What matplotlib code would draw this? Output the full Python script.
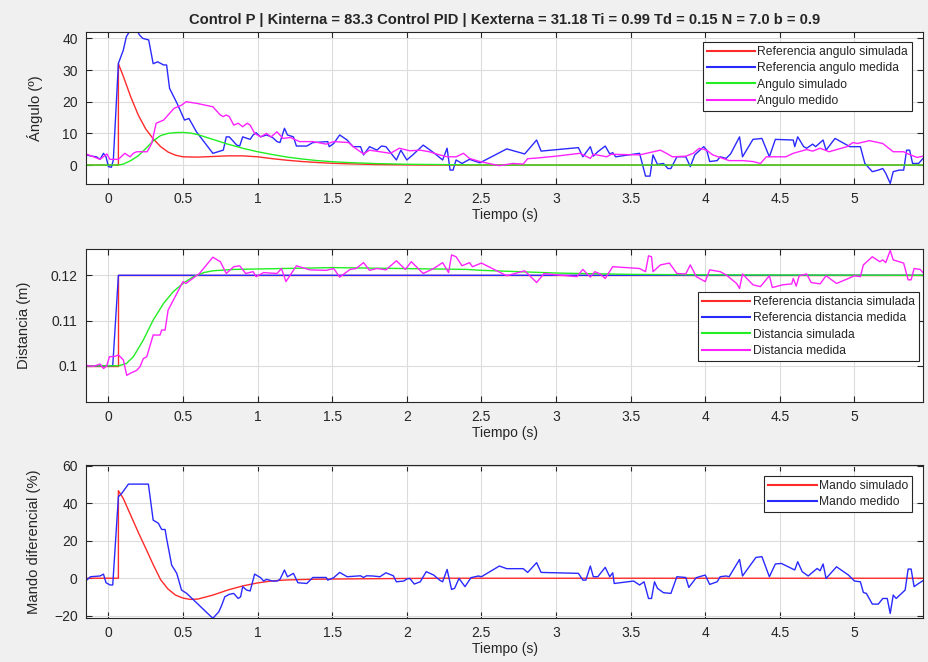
import matplotlib
matplotlib.use("Agg")
import matplotlib.pyplot as plt

plt.rcParams['font.family'] = ['Liberation Sans', 'DejaVu Sans']

# ---- Angulo ----
t_ref_ang_sim = [-0.15, 0.067, 0.067, 0.1, 0.15, 0.2, 0.25, 0.3, 0.35, 0.4, 0.45, 0.5, 0.6, 0.7, 0.8,
                 0.9, 1.0, 1.1, 1.2, 1.3, 1.4, 1.5, 1.6, 1.8, 2.0, 2.2, 5.46]
ref_ang_sim = [0, 0, 32, 28, 21.5, 15.8, 11.4, 8.3, 5.8, 4.1, 3.1, 2.6, 2.5, 2.7, 2.9,
               2.9, 2.6, 2.0, 1.5, 1.1, 0.8, 0.55, 0.4, 0.15, 0.05, 0.0, 0.0]

t_ang_sim = [-0.15, 0.067, 0.1, 0.15, 0.2, 0.25, 0.3, 0.35, 0.4, 0.45, 0.5, 0.55, 0.6, 0.7, 0.8, 0.9,
             1.0, 1.1, 1.2, 1.3, 1.4, 1.5, 1.6, 1.8, 2.0, 2.3, 2.6, 5.46]
ang_sim = [0, 0, 0.3, 1.4, 2.9, 5.2, 7.6, 9.3, 10.0, 10.25, 10.3, 10.1, 9.6, 8.1, 6.6, 5.3,
           4.2, 3.3, 2.5, 1.9, 1.4, 1.05, 0.8, 0.45, 0.25, 0.1, 0.0, 0.0]

t_ref_ang_med = [-0.15, -0.11, -0.08, -0.056, -0.033, -0.016, 0.0, 0.02, 0.033, 0.067, 0.1, 0.12, 0.145,
                 0.19, 0.21, 0.23, 0.27, 0.30, 0.33, 0.37, 0.39, 0.41, 0.46, 0.51, 0.54, 0.59, 0.70, 0.77,
                 0.79, 0.81, 0.86, 0.88, 0.90, 0.95, 0.97, 0.99, 1.02, 1.06, 1.10, 1.13, 1.15, 1.18, 1.20,
                 1.24, 1.26, 1.33, 1.37, 1.47, 1.48, 1.51, 1.55, 1.60, 1.64, 1.69, 1.71, 1.75, 1.80, 1.83,
                 1.86, 1.93, 1.96, 2.00, 2.04, 2.11, 2.18, 2.24, 2.27, 2.29, 2.31, 2.33, 2.37, 2.42, 2.49,
                 2.67, 2.79, 2.87, 2.90, 3.15, 3.18, 3.23, 3.25, 3.28, 3.33, 3.36, 3.38, 3.40, 3.56, 3.60,
                 3.63, 3.65, 3.68, 3.72, 3.75, 3.77, 3.81, 3.87, 3.90, 3.93, 3.99, 4.01, 4.03, 4.08, 4.10,
                 4.14, 4.17, 4.23, 4.25, 4.32, 4.38, 4.43, 4.47, 4.59, 4.60, 4.62, 4.66, 4.68, 4.72, 4.74,
                 4.79, 4.81, 4.87, 4.97, 5.04, 5.07, 5.12, 5.16, 5.19, 5.21, 5.24, 5.26, 5.30, 5.33, 5.35,
                 5.37, 5.39, 5.43, 5.46]
ref_ang_med = [3.2, 2.8, 2.6, 1.8, 3.7, 2.6, -0.5, -0.7, 1.6, 32.1, 36.3, 40.5, 42.5,
               42.5, 41, 40, 39.5, 32, 32.6, 31.6, 31.6, 24.2, 19.5, 14.2, 14.7, 10.5, 3.7, 4.7,
               8.9, 8.9, 6.3, 6.0, 8.9, 8.1, 9.5, 10.2, 8.9, 9.5, 8.7, 7.4, 7.1, 11.6, 9.5,
               8.9, 6.0, 6.0, 7.1, 7.4, 5.8, 6.8, 9.5, 7.9, 5.8, 5.8, 3.2, 5.8, 4.7, 6.0,
               5.8, 1.6, 4.7, 1.6, 3.2, 6.3, 3.9, 1.6, 5.3, -1.6, -1.6, 1.6, 0.5, 1.8, 0.7,
               5.1, 3.5, 7.9, 4.4, 5.5, 2.6, 5.8, 2.8, 4.2, 6.0, 3.5, 3.9, 2.6, 3.7, -3.5,
               -3.5, 3.2, 0.2, 0.5, -1.1, -1.1, 2.6, 2.6, -0.5, 3.2, 5.8, 4.7, 1.1, 1.4, 2.6,
               2.1, 3.5, 8.9, 2.6, 8.1, 8.4, 2.6, 8.1, 7.9, 5.8, 8.9, 5.8, 5.3, 6.6, 5.8,
               7.9, 4.7, 8.4, 5.8, 5.8, 0.5, -2.1, -1.6, -1.1, -2.6, -5.8, -2.1, -1.6, -1.6, 4.7,
               4.7, 0.5, 0.5, 2.1]

t_ang_med = [-0.15, -0.10, -0.056, -0.01, 0.01, 0.067, 0.11, 0.145, 0.167, 0.19, 0.26, 0.29, 0.32, 0.37,
             0.40, 0.44, 0.49, 0.52, 0.59, 0.70, 0.75, 0.77, 0.79, 0.81, 0.84, 0.87, 0.90, 0.93, 0.95,
             0.98, 1.02, 1.06, 1.09, 1.13, 1.17, 1.22, 1.28, 1.37, 1.46, 1.51, 1.61, 1.64, 1.71, 1.75,
             1.82, 1.89, 1.95, 2.02, 2.09, 2.15, 2.22, 2.27, 2.33, 2.38, 2.42, 2.49, 2.62, 2.71, 2.78,
             2.81, 2.87, 3.00, 3.16, 3.23, 3.25, 3.34, 3.37, 3.56, 3.70, 3.74, 3.78, 3.87, 3.92, 3.96,
             4.01, 4.05, 4.16, 4.25, 4.32, 4.37, 4.41, 4.54, 4.59, 4.68, 4.72, 4.77, 4.83, 4.95, 4.99,
             5.02, 5.10, 5.19, 5.26, 5.33, 5.36, 5.42, 5.46]
ang_med = [3.5, 2.6, 1.8, 3.5, 1.8, 1.8, 3.7, 2.6, 3.7, 4.2, 4.2, 6.8, 13.2, 14.2,
           15.8, 17.9, 18.9, 20.0, 19.5, 18.4, 15.8, 15.3, 15.8, 15.3, 12.6, 13.2, 12.1, 13.2, 12.6,
           10.0, 8.9, 10.0, 8.9, 10.5, 8.4, 8.7, 7.4, 7.4, 6.6, 7.4, 7.1, 5.8, 3.5, 4.7,
           4.2, 3.7, 5.3, 4.5, 4.7, 4.2, 3.2, 2.6, 2.6, 3.7, 2.1, 1.1, -0.2, 0.5, 0.3,
           2.0, 2.2, 2.8, 3.7, 2.1, 3.4, 2.6, 3.4, 3.2, 4.7, 3.7, 2.6, 2.8, 3.7, 5.3,
           4.7, 3.2, 1.4, 1.4, 1.1, 0.5, 2.6, 2.6, 3.7, 4.9, 4.4, 5.3, 4.2, 5.8, 7.1,
           6.8, 7.7, 6.8, 4.2, 4.2, 3.5, 2.4, 2.8]

# ---- Distancia ----
t_ref_dist_sim = [-0.15, 0.067, 0.067, 5.46]
ref_dist_sim = [0.1, 0.1, 0.12, 0.12]

t_ref_dist_med = [-0.15, 0.029, 0.067, 5.46]
ref_dist_med = [0.1, 0.1, 0.12, 0.12]

t_dist_sim = [-0.15, 0.067, 0.12, 0.167, 0.234, 0.30, 0.37, 0.435, 0.50, 0.57, 0.64, 0.70, 0.84, 1.51,
              2.4, 2.5, 3.0, 3.5, 4.0, 5.46]
dist_sim = [0.1, 0.1, 0.1005, 0.102, 0.1057, 0.1101, 0.1138, 0.1164, 0.1182, 0.1197, 0.1206, 0.121,
            0.1213, 0.1217, 0.1213, 0.1211, 0.1205, 0.1202, 0.1201, 0.12]

t_dist_med = [-0.15, -0.10, -0.056, -0.033, -0.011, 0.007, 0.045, 0.067, 0.1, 0.123, 0.156, 0.19, 0.212,
              0.234, 0.257, 0.30, 0.346, 0.357, 0.38, 0.40, 0.435, 0.50, 0.52, 0.61, 0.70, 0.75, 0.79,
              0.84, 0.88, 0.92, 0.97, 0.99, 1.04, 1.13, 1.16, 1.19, 1.22, 1.26, 1.35, 1.46, 1.51, 1.55,
              1.62, 1.66, 1.71, 1.75, 1.80, 1.86, 1.93, 1.99, 2.03, 2.11, 2.18, 2.24, 2.28, 2.30, 2.33,
              2.37, 2.42, 2.44, 2.5, 2.67, 2.79, 2.87, 2.92, 3.0, 3.14, 3.18, 3.23, 3.26, 3.29, 3.33,
              3.38, 3.56, 3.60, 3.62, 3.64, 3.65, 3.70, 3.76, 3.81, 3.87, 3.90, 3.94, 4.0, 4.03, 4.10,
              4.14, 4.21, 4.23, 4.25, 4.32, 4.37, 4.43, 4.45, 4.52, 4.58, 4.59, 4.61, 4.63, 4.68, 4.71,
              4.77, 4.81, 4.88, 4.96, 5.0, 5.04, 5.06, 5.12, 5.17, 5.19, 5.21, 5.24, 5.26, 5.33, 5.36,
              5.38, 5.40, 5.44, 5.46]
dist_med = [0.1001, 0.0999, 0.1004, 0.0994, 0.1, 0.102, 0.1021, 0.1024, 0.1013, 0.0979, 0.0985, 0.099,
            0.0998, 0.1016, 0.102, 0.1068, 0.1068, 0.1079, 0.1079, 0.1123, 0.1145, 0.1186, 0.1182,
            0.1204, 0.124, 0.123, 0.1204, 0.1219, 0.1221, 0.1204, 0.1208, 0.1197, 0.1206, 0.1204,
            0.1215, 0.1186, 0.1201, 0.1221, 0.1212, 0.1211, 0.1215, 0.1196, 0.1213, 0.1215, 0.1228,
            0.1211, 0.1215, 0.1212, 0.1232, 0.1213, 0.123, 0.1204, 0.1215, 0.1228, 0.1206, 0.1245,
            0.1241, 0.1221, 0.1228, 0.1219, 0.1227, 0.1199, 0.121, 0.1184, 0.1204, 0.1201, 0.1197,
            0.1213, 0.1196, 0.1208, 0.1204, 0.1193, 0.1219, 0.1215, 0.1208, 0.1243, 0.1241, 0.1208,
            0.1223, 0.1227, 0.1204, 0.1203, 0.1223, 0.1197, 0.1186, 0.1212, 0.1208, 0.1201, 0.1182,
            0.1171, 0.1203, 0.1179, 0.1175, 0.1199, 0.1173, 0.1179, 0.1181, 0.1193, 0.1176, 0.1199,
            0.1203, 0.1184, 0.1181, 0.1199, 0.1182, 0.1193, 0.1199, 0.1197, 0.1223, 0.1241, 0.123,
            0.1234, 0.1228, 0.1255, 0.1234, 0.1227, 0.119, 0.119, 0.1215, 0.1213, 0.1206]

# ---- Mando ----
t_mando_sim = [-0.15, 0.067, 0.067, 0.1, 0.15, 0.2, 0.25, 0.3, 0.35, 0.4, 0.45, 0.5, 0.55, 0.6, 0.7,
               0.8, 0.9, 1.0, 1.1, 1.2, 1.4, 1.7, 2.2, 5.46]
mando_sim = [0, 0, 46.7, 42.5, 33.5, 24.5, 16, 7.3, -0.8, -5.8, -9, -10.6, -11.3, -11.1, -9.0,
             -6.3, -4.1, -2.5, -1.4, -0.9, -0.5, -0.3, 0.0, 0.0]

t_mando_med = [-0.15, -0.12, -0.056, -0.033, -0.016, 0.011, 0.029, 0.067, 0.089, 0.134, 0.268, 0.30,
               0.335, 0.357, 0.38, 0.39, 0.424, 0.458, 0.49, 0.525, 0.70, 0.74, 0.76, 0.78, 0.81, 0.84,
               0.87, 0.886, 0.90, 0.926, 0.95, 0.98, 1.02, 1.04, 1.06, 1.10, 1.13, 1.15, 1.18, 1.20,
               1.24, 1.27, 1.33, 1.37, 1.46, 1.47, 1.51, 1.55, 1.60, 1.69, 1.71, 1.73, 1.77, 1.82, 1.86,
               1.91, 1.93, 1.98, 2.0, 2.02, 2.05, 2.09, 2.13, 2.18, 2.22, 2.24, 2.27, 2.30, 2.32, 2.35,
               2.39, 2.43, 2.48, 2.5, 2.62, 2.67, 2.78, 2.81, 2.87, 2.90, 3.15, 3.18, 3.20, 3.23, 3.25,
               3.28, 3.33, 3.36, 3.38, 3.39, 3.52, 3.56, 3.59, 3.62, 3.64, 3.66, 3.68, 3.72, 3.77, 3.81,
               3.87, 3.89, 3.94, 4.0, 4.03, 4.08, 4.10, 4.14, 4.16, 4.23, 4.25, 4.34, 4.38, 4.43, 4.47,
               4.51, 4.60, 4.62, 4.65, 4.69, 4.75, 4.77, 4.79, 4.81, 4.88, 4.96, 5.0, 5.04, 5.06, 5.08,
               5.12, 5.16, 5.19, 5.22, 5.24, 5.26, 5.28, 5.34, 5.36, 5.38, 5.40, 5.43, 5.46]
mando_med = [-1.3, 0.8, 1.2, 2.2, -2.4, -3.6, -3.6, 43.5, 45.2, 50.2, 50.2, 31,
             29.3, 26, 26, 21.2, 7, 2.6, -6.3, -8.1, -21.4, -17.9, -14.3, -9.9, -8.6, -8.1,
             -10.8, -9.9, -4.5, -6.3, -6.8, 2.2, 0.3, -1.5, -0.6, -1.5, -1.5, -0.6, 4.4, 0.8,
             2.6, -2.4, -2.8, 0.4, 0.4, -1.0, 0.3, 3.1, 0.8, 1.3, 0.4, 1.3, 1.2, 0.8, 2.9,
             1.3, -1.9, -1.5, -0.4, -0.1, -3.1, -1.9, 3.5, 1.7, -1.0, -1.9, 4.7, -6.0, -5.4, -0.1,
             -4.5, 0.3, 1.2, 0.8, 6.5, 5.1, 5.1, 3.1, 8.3, 3.1, 2.6, -1.0, -1.0, 6.5, 0.8,
             0.8, 5.8, 0.8, 2.9, -2.8, -1.5, -3.6, -1.9, -10.8, -10.8, -1.9, -5.4, -7.7, -8.1, 0.8,
             0.4, -4.9, 0.3, 1.7, -3.3, -1.9, 0.8, 1.2, 0.8, 10.0, 1.2, 11.1, 11.5, 0.8, 7.6,
             7.9, 4.4, 8.8, 3.5, 1.2, 5.2, 4.0, 7.6, -0.1, 6.1, 1.7, -1.5, -1.9, -7.6, -8.1,
             -13.8, -13.8, -10.8, -10.8, -18.8, -9.0, -10.8, -6.3, 4.9, 4.9, -4.5, -2.8, -1.3]

xticks = [0, 0.5, 1, 1.5, 2, 2.5, 3, 3.5, 4, 4.5, 5]
xtick_labels = ['0', '0.5', '1', '1.5', '2', '2.5', '3', '3.5', '4', '4.5', '5']

titulo = ('Control P | Kinterna = 83.3 Control PID | Kexterna = 31.18 '
          'Ti = 0.99 Td = 0.15 N = 7.0 b = 0.9')

RED = '#ff2a2a'
BLUE = '#2a2aff'
GREEN = '#22ee22'
MAG = '#ff22ff'
TXT = '#262626'

fig = plt.figure(figsize=(9.29, 6.62), dpi=100, facecolor='#f0f0f0')
ax1 = fig.add_axes([0.0926, 0.722, 0.901, 0.2296])
ax2 = fig.add_axes([0.0926, 0.3927, 0.901, 0.2311])
ax3 = fig.add_axes([0.0926, 0.0665, 0.901, 0.2311])

leg_kw = dict(fontsize=8.7, handlelength=4.0, handletextpad=0.2, labelspacing=0.35,
              borderpad=0.33, borderaxespad=0, fancybox=False, framealpha=1,
              edgecolor=TXT)

ax1.plot(t_ref_ang_sim, ref_ang_sim, c=RED, lw=1, label='Referencia angulo simulada')
ax1.plot(t_ref_ang_med, ref_ang_med, c=BLUE, lw=1, label='Referencia angulo medida')
ax1.plot(t_ang_sim, ang_sim, c=GREEN, lw=1, label='Angulo simulado')
ax1.plot(t_ang_med, ang_med, c=MAG, lw=1, label='Angulo medido')
ax1.set_ylim(-6, 42)
ax1.set_yticks([0, 10, 20, 30, 40])
ax1.set_ylabel('Ángulo (º)', labelpad=14)
leg1 = ax1.legend(loc='upper right', bbox_to_anchor=(0.987, 0.934), **leg_kw)

ax2.plot(t_ref_dist_sim, ref_dist_sim, c=RED, lw=1, label='Referencia distancia simulada')
ax2.plot(t_ref_dist_med, ref_dist_med, c=BLUE, lw=1, label='Referencia distancia medida')
ax2.plot(t_dist_sim, dist_sim, c=GREEN, lw=1, label='Distancia simulada')
ax2.plot(t_dist_med, dist_med, c=MAG, lw=1, label='Distancia medida')
ax2.set_ylim(0.092, 0.1258)
ax2.set_yticks([0.1, 0.11, 0.12])
ax2.set_yticklabels(['0.1', '0.11', '0.12'])
ax2.set_ylabel('Distancia (m)', labelpad=14)
leg2 = ax2.legend(loc='center right', bbox_to_anchor=(0.995, 0.493), **leg_kw)

ax3.plot(t_mando_sim, mando_sim, c=RED, lw=1, label='Mando simulado')
ax3.plot(t_mando_med, mando_med, c=BLUE, lw=1, label='Mando medido')
ax3.set_ylim(-21.2, 60.4)
ax3.set_yticks([-20, 0, 20, 40, 60])
ax3.set_ylabel('Mando diferencial (%)', labelpad=9)
leg3 = ax3.legend(loc='upper right', bbox_to_anchor=(0.987, 0.928), **leg_kw)

for ax, leg in ((ax1, leg1), (ax2, leg2), (ax3, leg3)):
    ax.set_xlim(-0.15, 5.46)
    ax.set_xticks(xticks)
    ax.set_xticklabels(xtick_labels)
    ax.set_xlabel('Tiempo (s)', fontsize=10, color=TXT, labelpad=1)
    ax.yaxis.label.set_color(TXT)
    ax.yaxis.label.set_fontsize(10.6)
    ax.grid(True, color='#dcdcdc', lw=0.8)
    ax.set_axisbelow(True)
    ax.tick_params(direction='in', top=True, right=True, length=4, width=0.8,
                   labelsize=10, colors=TXT, pad=6)
    for s in ax.spines.values():
        s.set_color(TXT)
        s.set_linewidth(0.8)
    leg.get_frame().set_linewidth(0.8)
    for txt in leg.get_texts():
        txt.set_color(TXT)
    for h in leg.get_lines():
        h.set_linewidth(1.5)

ax1.set_title(titulo, fontsize=10.6, fontweight='bold', color=TXT, pad=6)

fig.savefig('out.png', dpi=100, facecolor=fig.get_facecolor())
